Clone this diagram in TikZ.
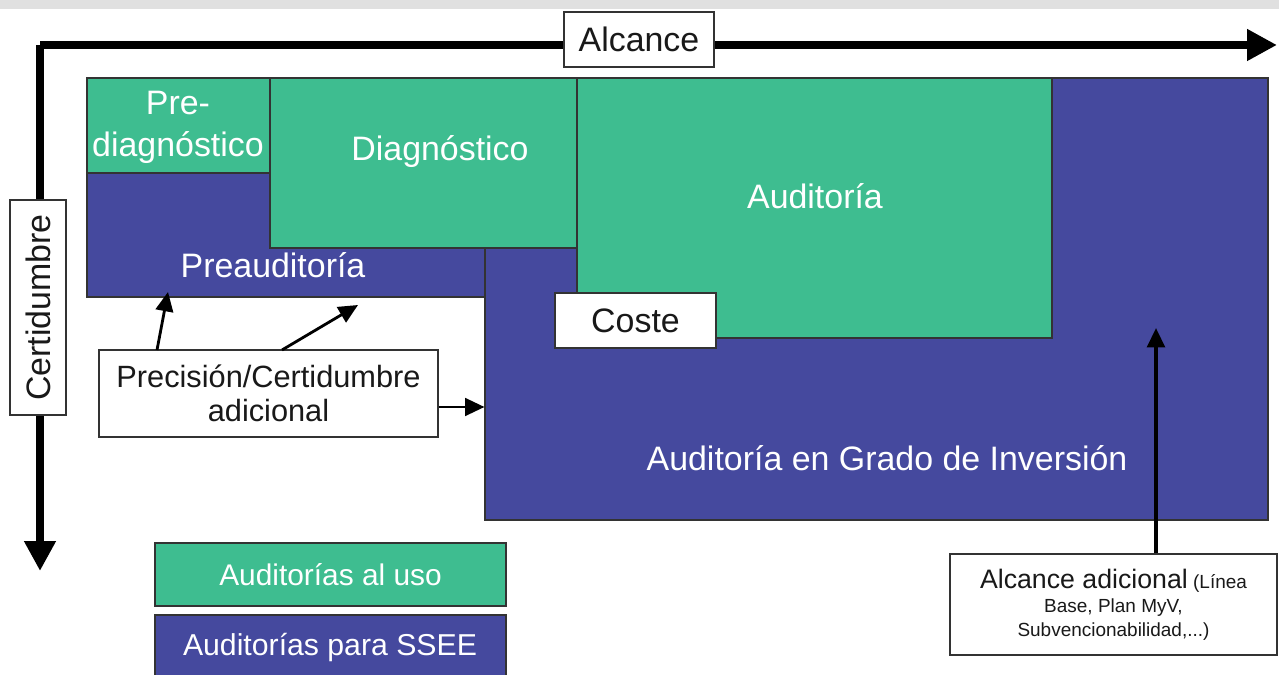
\documentclass[tikz,border=0pt]{standalone}
\usepackage{fontspec}
\setmainfont{Liberation Sans}
\usetikzlibrary{arrows.meta,fit}
\definecolor{gr}{RGB}{62,189,144}
\definecolor{bl}{RGB}{69,73,158}
\begin{document}
\begin{tikzpicture}[x=0.02cm,y=-0.02cm,
  box/.style={inner sep=0pt,draw=black!80,line width=0.6pt},
  gbox/.style={box,fill=gr},
  bbox/.style={box,fill=bl},
  wbox/.style={box,fill=white},
  wtxt/.style={text=white,font=\fontsize{19.3}{22}\selectfont,align=center,inner sep=0pt},
  ktxt/.style={text=black!90,font=\fontsize{19.3}{22}\selectfont,align=center,inner sep=0pt},
  axis/.style={line width=4.5pt,-{Triangle[length=17pt,width=17pt]}},
  arr/.style={line width=1.6pt,-{Triangle[length=11pt,width=10pt]}}]
\useasboundingbox (0,0) rectangle (1279,675);
\fill[black!12] (0,0) rectangle (1279,9);
% axes
\coordinate (corner) at (40,45);
\coordinate (xend) at (1277,45);
\coordinate (yend) at (40,571);
\draw[axis] (corner) -- (xend);
\draw[axis] (corner) -- (yend);
\node[wbox,fit={(564,12) (714,67)}] (alc) {};
\node[ktxt] at (alc.center) {Alcance};
\node[wbox,fit={(10,200) (66,415)}] (cert) {};
\node[ktxt,rotate=90] at (cert.center) {Certidumbre};
% big boxes
\node[bbox,fit={(485,78) (1268,520)}] (inv) {};
\node[wtxt] at (887,458) {Auditoría en Grado de Inversión};
\node[gbox,fit={(577,78) (1052,338)}] (aud) {};
\node[wtxt] at (815,196) {Auditoría};
\node[bbox,fit={(87,78) (485,297)}] (preaud) {};
\node[wtxt] at (273,265) {Preauditoría};
\node[gbox,fit={(87,78) (270,173)}] (prediag) {};
\node[wtxt,font=\fontsize{19.3}{24}\selectfont] at (178,127) {Pre-\\diagnóstico};
\node[gbox,fit={(270,78) (577,248)}] (diag) {};
\node[wtxt] at (440,152) {Diagnóstico};
\node[wbox,fit={(555,293) (716,348)}] (coste) {};
\node[ktxt] at (coste.center) {Coste};
% precision
\node[wbox,fit={(99,350) (438,437)}] (prec) {};
\node[ktxt,font=\fontsize{17.5}{19.5}\selectfont] at (prec.center) {Precisión/Certidumbre\\adicional};
\coordinate (p1) at (168,292);
\coordinate (p2) at (358,305);
\draw[arr] (157,350) -- (p1);
\draw[arr] (282,350) -- (p2);
\draw[arr] (prec.east |- 0,407) -- (inv.west |- 0,407);
% alcance adicional
\node[wbox,fit={(950,554) (1277,655)}] (alcad) {};
\node[ktxt,font=\fontsize{10.8}{13.6}\selectfont] at (alcad.center) {{\fontsize{15.2}{17}\selectfont Alcance adicional} (Línea\\Base, Plan MyV,\\Subvencionabilidad,...)};
\coordinate (a1) at (1156,328);
\draw[arr,line width=2pt] (alcad.north -| 1156,0) -- (a1);
% legend
\node[gbox,fit={(155,543) (506,606)}] (leg1) {};
\node[wtxt,font=\fontsize{17}{20}\selectfont] at (leg1.center) {Auditorías al uso};
\node[bbox,fit={(155,615) (506,690)}] (leg2) {};
\node[wtxt,font=\fontsize{17.2}{20}\selectfont] at (330,648) {Auditorías para SSEE};
\end{tikzpicture}
\end{document}
